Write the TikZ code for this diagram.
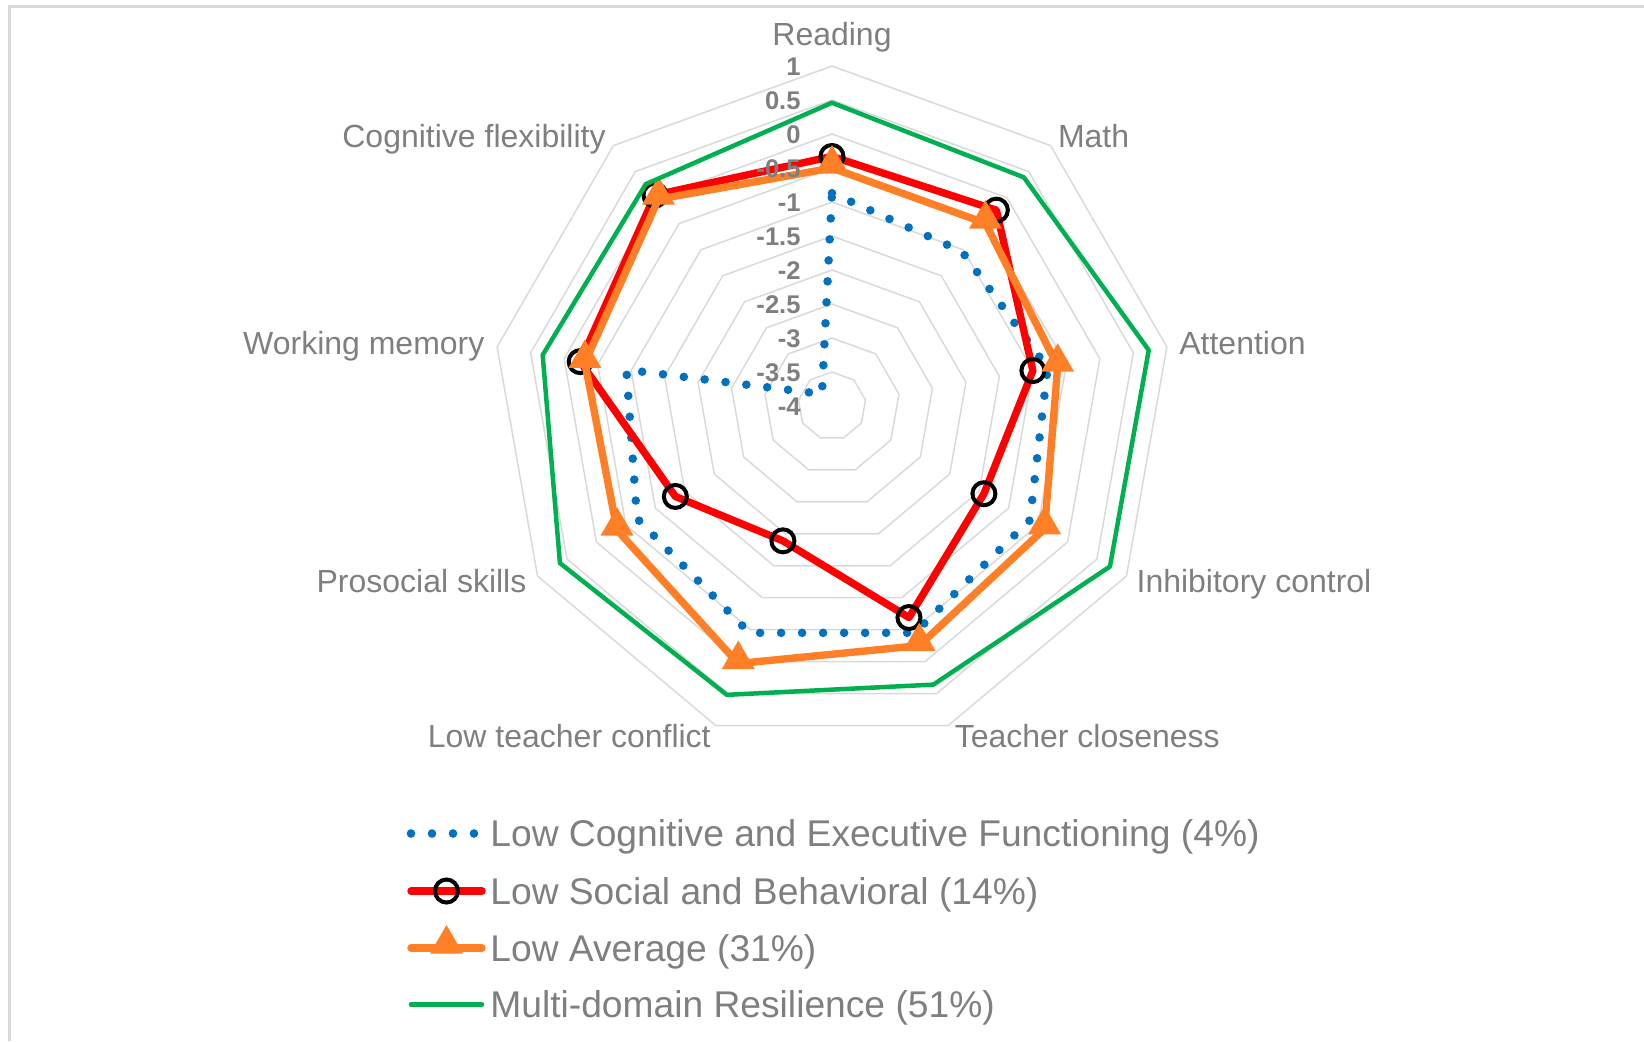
\documentclass[tikz,border=0pt]{standalone}
\usepackage{fontspec}
\setmainfont{Liberation Sans}
\usetikzlibrary{shapes.geometric}
\definecolor{cblue}{HTML}{0070C0}
\definecolor{cred}{HTML}{FF0000}
\definecolor{corange}{HTML}{FF7F27}
\definecolor{cgreen}{HTML}{00B050}
\definecolor{ctext}{HTML}{7F7F7F}
\definecolor{cgrid}{HTML}{D9D9D9}
\begin{document}
\begin{tikzpicture}[x=0.5pt,y=0.5pt,
  gridline/.style={draw=cgrid, line width=0.75pt},
  framel/.style={draw=cgrid, line width=1.5pt},
  bluel/.style={draw=cblue, line width=4.3pt, line cap=round, dash pattern=on 0pt off 10.5pt},
  redl/.style={draw=cred, line width=3.7pt, line join=round},
  orangel/.style={draw=corange, line width=3.7pt, line join=round},
  greenl/.style={draw=cgreen, line width=2.25pt, line join=round},
  redmark/.style={circle, draw=black, line width=2pt, minimum size=11.5pt, inner sep=0pt},
  orangemark/.style={regular polygon, regular polygon sides=3, fill=corange, minimum size=19pt, inner sep=0pt, yshift=2pt},
  axislab/.style={text=ctext, font=\fontsize{16}{19}\selectfont, inner sep=0pt, anchor=base},
  ticklab/.style={text=ctext, font=\fontsize{12.8}{15}\selectfont\bfseries, inner sep=0pt, anchor=base east},
  legtext/.style={text=ctext, font=\fontsize{18.6}{22}\selectfont, inner sep=0pt, anchor=base west},
]
\useasboundingbox (-832,-635) rectangle (812,406);
% frame
\coordinate (f1) at (-822,-635);
\coordinate (f2) at (-822,400);
\coordinate (f3) at (812,400);
\draw[framel] (f1) -- (f2) -- (f3);
% grid rings
\foreach \k in {1,...,10}{
  \draw[gridline] (90:{\k*34}) \foreach \a in {50,10,-30,-70,-110,-150,-190,-230}{ -- (\a:{\k*34}) } -- cycle;
}
% data points
\foreach \v [count=\i from 0] in {-0.87,-1.03,-0.78,-0.64,-0.45,-0.45,-0.69,-0.93,-3.77}
  \coordinate (b\i) at ({90-40*\i}:{(\v+4)*68});
\foreach \v [count=\i from 0] in {-0.33,-0.24,-1.0,-1.42,-0.69,-1.89,-1.34,-0.24,0.05}
  \coordinate (r\i) at ({90-40*\i}:{(\v+4)*68});
\foreach \v [count=\i from 0] in {-0.5,-0.49,-0.63,-0.39,-0.25,0.03,-0.35,-0.31,-0.03}
  \coordinate (o\i) at ({90-40*\i}:{(\v+4)*68});
\foreach \v [count=\i from 0] in {0.46,0.39,0.73,0.72,0.36,0.52,0.62,0.32,0.26}
  \coordinate (g\i) at ({90-40*\i}:{(\v+4)*68});
% series
\draw[bluel] (b0) -- (b1) -- (b2) -- (b3) -- (b4) -- (b5) -- (b6) -- (b7) -- (b8) -- cycle;
\draw[redl] (r0) -- (r1) -- (r2) -- (r3) -- (r4) -- (r5) -- (r6) -- (r7) -- (r8) -- cycle;
\foreach \i in {0,...,8} \node[redmark] (rm\i) at (r\i) {};
\draw[orangel] (o0) -- (o1) -- (o2) -- (o3) -- (o4) -- (o5) -- (o6) -- (o7) -- (o8) -- cycle;
\foreach \i in {0,...,8} \node[orangemark] (om\i) at (o\i) {};
\draw[greenl] (g0) -- (g1) -- (g2) -- (g3) -- (g4) -- (g5) -- (g6) -- (g7) -- (g8) -- cycle;
% tick labels
\foreach \lab [count=\k from 0] in {-4,-3.5,-3,-2.5,-2,-1.5,-1,-0.5,0,0.5,1}
  \node[ticklab] (t\k) at (-31,{\k*34-9}) {\lab};
% axis labels
\node[axislab] (aread) at (0,361) {Reading};
\node[axislab] (amath) at (261.6,259) {Math};
\node[axislab] (aatt) at (410.5,51.6) {Attention};
\node[axislab] (ainh) at (422,-186.4) {Inhibitory control};
\node[axislab] (atc) at (255.3,-341.5) {Teacher closeness};
\node[axislab] (altc) at (-262.7,-341.5) {Low teacher conflict};
\node[axislab] (apro) at (-410.5,-186.4) {Prosocial skills};
\node[axislab] (awm) at (-468.2,51.6) {Working memory};
\node[axislab] (acf) at (-358,259) {Cognitive flexibility};
% legend
\coordinate (lb1) at (-421,-427.5); \coordinate (lb2) at (-352,-427.5);
\draw[bluel] (lb1) -- (lb2);
\node[legtext] (lt1) at (-342,-440.5) {Low Cognitive and Executive Functioning (4\%)};
\coordinate (lr1) at (-421,-485); \coordinate (lr2) at (-350,-485);
\draw[redl, line cap=round] (lr1) -- (lr2);
\node[redmark] (lrm) at (-385.5,-485) {};
\node[legtext] (lt2) at (-342,-498) {Low Social and Behavioral (14\%)};
\coordinate (lo1) at (-421,-542); \coordinate (lo2) at (-350,-542);
\draw[orangel, line cap=round] (lo1) -- (lo2);
\node[orangemark] (lom) at (-385.5,-542) {};
\node[legtext] (lt3) at (-342,-555) {Low Average (31\%)};
\coordinate (lg1) at (-421,-598.5); \coordinate (lg2) at (-350,-598.5);
\draw[greenl, line cap=round] (lg1) -- (lg2);
\node[legtext] (lt4) at (-342,-611.5) {Multi-domain Resilience (51\%)};
\end{tikzpicture}
\end{document}
